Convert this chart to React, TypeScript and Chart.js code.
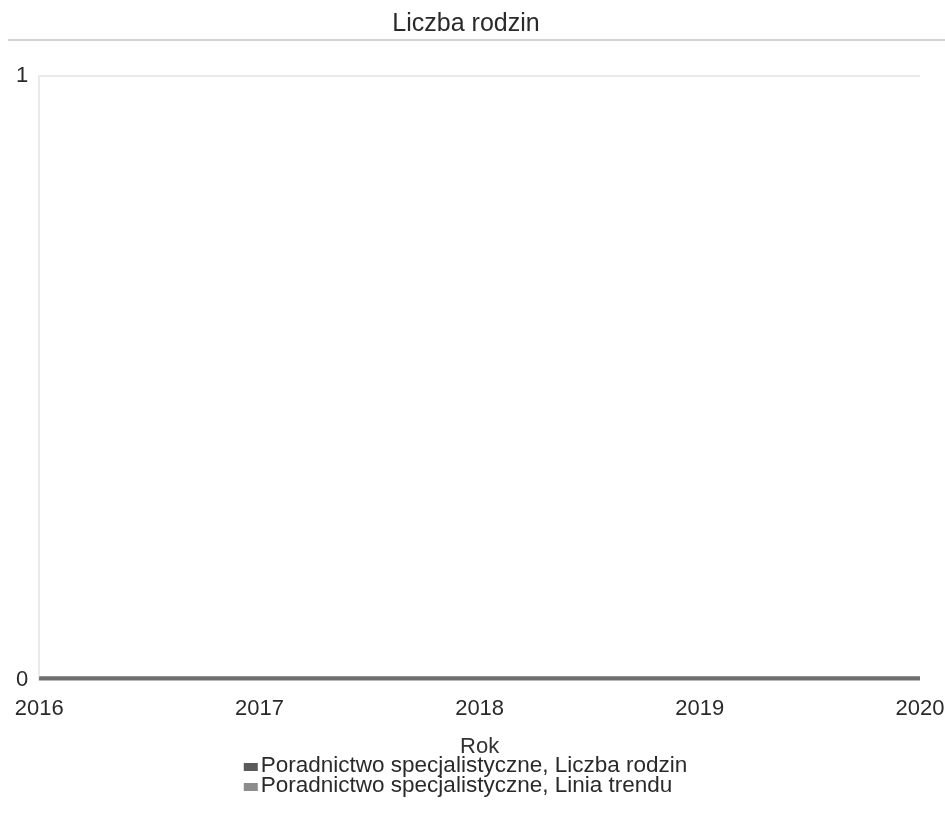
import React, { useEffect, useRef } from "react";
import { Chart, registerables } from "chart.js";

Chart.register(...registerables);

const years = [2016, 2017, 2018, 2019, 2020];
const familyCounts = [0, 0, 0, 0, 0];
const trendValues = [0, 0, 0, 0, 0];
const yTickValues = [0, 1];
const seriesLabels = [
  "Poradnictwo specjalistyczne, Liczba rodzin",
  "Poradnictwo specjalistyczne, Linia trendu",
];
const legendColors = ["#5a5a5a", "#8c8c8c"];
const chartTitle = "Liczba rodzin";
const xAxisTitle = "Rok";

const FONT = "'Liberation Sans', Arial, sans-serif";
const LEGEND_FONT_SIZE = 22.5;
const LEGEND_ROW = 20;

const decorations = {
  id: "decorations",
  afterDraw(chart: any) {
    const ctx = chart.ctx;
    ctx.save();
    // rule under the title
    const tb = chart.titleBlock;
    if (tb) {
      ctx.strokeStyle = "#d2d2d2";
      ctx.lineWidth = 2;
      ctx.beginPath();
      ctx.moveTo(8, tb.top + 40);
      ctx.lineTo(chart.width, tb.top + 40);
      ctx.stroke();
    }
    // stacked legend below the x axis
    const xs = chart.scales.x;
    ctx.font = `${LEGEND_FONT_SIZE}px ${FONT}`;
    const boxW = 14;
    const boxH = 8;
    const gap = 3;
    const items = chart.data.datasets.map((d: any, i: number) => ({
      text: d.label,
      color: legendColors[i],
    }));
    const blockW = Math.max(...items.map((it: any) => boxW + gap + ctx.measureText(it.text).width));
    const left = (chart.width - blockW) / 2 - 7;
    ctx.textBaseline = "middle";
    ctx.textAlign = "left";
    items.forEach((it: any, i: number) => {
      const cy = xs.bottom + 6 + i * LEGEND_ROW;
      ctx.fillStyle = it.color;
      ctx.fillRect(left, cy - boxH / 2 + 1, boxW, boxH);
      ctx.fillStyle = "#2a2a2a";
      ctx.fillText(it.text, left + boxW + gap, cy);
    });
    ctx.restore();
  },
};

export default function App() {
  const ref = useRef<HTMLCanvasElement | null>(null);

  useEffect(() => {
    if (!ref.current) return;
    const chart = new Chart(ref.current, {
      type: "line",
      data: {
        datasets: [
          {
            label: seriesLabels[0],
            data: years.map((y, i) => ({ x: y, y: familyCounts[i] })),
            borderColor: "#6e6e6e",
            backgroundColor: legendColors[0],
            borderWidth: 8,
            pointRadius: 0,
            borderCapStyle: "square",
          },
          {
            label: seriesLabels[1],
            data: years.map((y, i) => ({ x: y, y: trendValues[i] })),
            borderColor: "#838383",
            backgroundColor: legendColors[1],
            borderWidth: 5,
            pointRadius: 0,
            borderCapStyle: "square",
          },
        ],
      },
      options: {
        animation: false,
        responsive: false,
        maintainAspectRatio: false,
        layout: { padding: { left: 5, right: 18, top: 0, bottom: 68 } },
        plugins: {
          title: {
            display: true,
            text: chartTitle,
            color: "#2a2a2a",
            font: { family: FONT, size: 25, weight: "normal" },
            padding: { top: 9, bottom: 37 },
          },
          legend: { display: false },
          tooltip: { enabled: false },
        },
        scales: {
          x: {
            type: "linear",
            min: years[0],
            max: years[years.length - 1],
            grid: { display: false },
            border: { display: false },
            afterFit: (axis: any) => {
              axis.paddingRight = 25;
            },
            ticks: {
              stepSize: 1,
              color: "#2a2a2a",
              font: { family: FONT, size: 22 },
              padding: 8,
              maxRotation: 0,
              callback: (v: any) => String(v),
            },
            title: {
              display: true,
              text: xAxisTitle,
              color: "#333333",
              font: { family: FONT, size: 22 },
              padding: { top: 3, bottom: 0 },
            },
          },
          y: {
            min: yTickValues[0],
            max: yTickValues[yTickValues.length - 1],
            grid: { color: "#eaeaea", lineWidth: 2, drawTicks: false },
            border: { color: "#eaeaea", width: 2 },
            afterBuildTicks: (axis: any) => {
              axis.ticks = yTickValues.map((v) => ({ value: v }));
            },
            ticks: {
              color: "#2a2a2a",
              font: { family: FONT, size: 22 },
              padding: 11,
              callback: (v: any) => String(v),
            },
          },
        },
      },
      plugins: [decorations],
    });
    return () => chart.destroy();
  }, []);

  return (
    <div style={{ position: "absolute", left: 0, top: 0, width: 945, height: 828, background: "#fff" }}>
      <canvas ref={ref} width={945} height={828} style={{ width: 945, height: 828 }} />
    </div>
  );
}
